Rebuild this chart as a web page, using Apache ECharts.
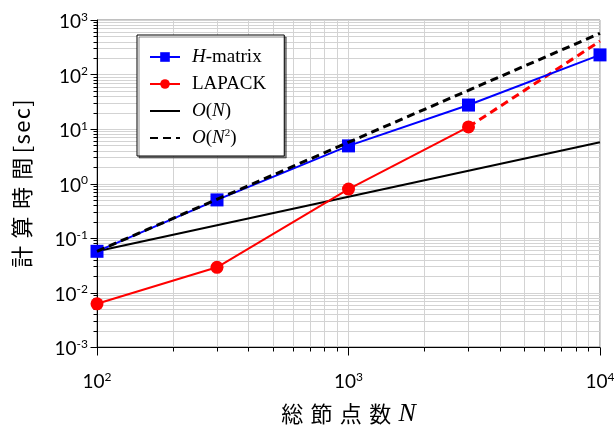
<!DOCTYPE html>
<html><head><meta charset="utf-8">
<script src="https://cdn.jsdelivr.net/npm/echarts@6/dist/echarts.min.js"></script>
<style>html,body{margin:0;padding:0;background:#fff}#c{width:614px;height:426px}</style>
</head><body><div id="c"></div>
<script>
// ---- data ----
const nodes = [100, 300, 1000, 3000, 10000];
const hmatrixTime = [0.057, 0.5, 4.9, 27.5, 229];
const lapackNodes = [100, 300, 1000, 3000];
const lapackTime = [0.0062, 0.029, 0.79, 10.9];
const lapackExtNodes = [3000, 10000];
const lapackExtTime = [10.9, 410];
const orderNodes = [100, 10000];
const orderN = [0.057, 5.7];
const orderN2 = [0.057, 570];
const xMajorTicks = [100, 1000, 10000];
const yMajorTicks = [0.001, 0.01, 0.1, 1, 10, 100, 1000];
const minorMultipliers = [2, 3, 4, 5, 6, 7, 8, 9];
const X_MIN = 100, X_MAX = 10000, Y_MIN = 0.001, Y_MAX = 1000;

function zip(a, b) { return a.map((v, i) => [v, b[i]]); }
function gridValues(majors) {
  const out = majors.map(v => [v, 1]);
  majors.slice(0, -1).forEach(m => minorMultipliers.forEach(k => out.push([m * k, 0])));
  return out;
}
const xGridValues = gridValues(xMajorTicks);
const yGridValues = gridValues(yMajorTicks);

const GRID_COLOR = '#d3d3d3';
function px(v) { return Math.round(v) + 0.5; }

function renderV(params, api) {
  const x = api.value(0), major = api.value(1) === 1;
  const t = api.coord([x, Y_MAX]), b = api.coord([x, Y_MIN]);
  const xx = px(t[0]);
  return { type: 'group', children: [
    { type: 'line', shape: { x1: xx, y1: t[1], x2: xx, y2: b[1] }, style: { stroke: GRID_COLOR, lineWidth: 1 } },
    { type: 'line', shape: { x1: xx, y1: px(b[1]), x2: xx, y2: px(b[1]) + (major ? 8 : 4) }, style: { stroke: '#000', lineWidth: 1 } }
  ]};
}
function renderH(params, api) {
  const y = api.value(0), major = api.value(1) === 1;
  const l = api.coord([X_MIN, y]), r = api.coord([X_MAX, y]);
  const yy = px(l[1]);
  return { type: 'group', children: [
    { type: 'line', shape: { x1: l[0], y1: yy, x2: r[0], y2: yy }, style: { stroke: GRID_COLOR, lineWidth: 1 } },
    { type: 'line', shape: { x1: px(l[0]), y1: yy, x2: px(l[0]) - (major ? 7 : 4), y2: yy }, style: { stroke: '#000', lineWidth: 1 } }
  ]};
}

const tickRich = {
  b: { fontFamily: 'Lato', fontSize: 19, lineHeight: 22, color: '#000' },
  s: { fontFamily: 'Lato', fontSize: 12, lineHeight: 12, verticalAlign: 'top', color: '#000' }
};
function powLabel(v) {
  const e = Math.round(Math.log10(v));
  return '{b|10}{s|' + (e < 0 ? '-' + (-e) : e) + '}';
}

const legendNames = {
  'H-matrix': '{i|H}{r|-matrix}',
  'LAPACK': '{r|LAPACK}',
  'O(N)': '{i|O}{r|(}{i|N}{r|)}',
  'O(N2)': '{i|O}{r|(}{i|N}{s|2}{r|)}'
};
const serif = 'Liberation Serif';

const chart = echarts.init(document.getElementById('c'), null, { renderer: 'canvas' });
chart.setOption({
  animation: false,
  backgroundColor: '#fff',
  grid: { left: 97, right: 14, top: 20, bottom: 79, show: true, borderColor: '#808080', borderWidth: 1,
    backgroundColor: 'transparent', containLabel: false, outerBoundsMode: 'none' },
  legend: {
    orient: 'vertical', left: 137, top: 35,
    data: ['H-matrix', 'LAPACK',
      { name: 'O(N)', itemStyle: { opacity: 0 } },
      { name: 'O(N2)', itemStyle: { opacity: 0 } }],
    itemWidth: 30, itemHeight: 12, itemGap: 7,
    padding: [12, 18, 8, 12],
    backgroundColor: '#fff', borderColor: '#000', borderWidth: 1,
    shadowColor: 'rgba(0,0,0,0.45)', shadowOffsetX: 2, shadowOffsetY: 2, shadowBlur: 0,
    formatter: n => legendNames[n],
    textStyle: {
      fontFamily: serif, fontSize: 19, lineHeight: 20, color: '#000', padding: [0, 0, 0, 7],
      rich: {
        r: { fontFamily: serif, fontSize: 19, color: '#000' },
        i: { fontFamily: serif, fontSize: 19, fontStyle: 'italic', color: '#000' },
        s: { fontFamily: serif, fontSize: 11, lineHeight: 11, verticalAlign: 'top', color: '#000' }
      }
    }
  },
  xAxis: {
    type: 'log', logBase: 10, min: X_MIN, max: X_MAX,
    axisLine: { show: true, lineStyle: { color: '#000', width: 1 } },
    axisTick: { show: false },
    splitLine: { show: false },
    axisLabel: { margin: 24, formatter: powLabel, rich: tickRich, hideOverlap: false },
    name: '{c|総\u2004節\u2004点\u2004数\u2004}{n|N}',
    nameLocation: 'middle', nameGap: 54,
    nameTextStyle: { rich: {
      c: { fontFamily: 'Noto Sans CJK JP', fontSize: 22, color: '#000' },
      n: { fontFamily: serif, fontStyle: 'italic', fontSize: 26, color: '#000' }
    } }
  },
  yAxis: {
    type: 'log', logBase: 10, min: Y_MIN, max: Y_MAX,
    axisLine: { show: true, lineStyle: { color: '#000', width: 1 } },
    axisTick: { show: false },
    splitLine: { show: false },
    axisLabel: { margin: 9, formatter: powLabel, rich: tickRich, padding: [4, 0, 0, 0] },
    name: '計\u2004算\u2004時\u2004間\u2009[\u200as\u200ae\u200ac\u200a]',
    nameLocation: 'middle', nameGap: 64, nameRotate: 90,
    nameTextStyle: { fontFamily: "'Noto Sans CJK JP', 'DejaVu Sans'", fontSize: 22, color: '#000' }
  },
  series: [
    { type: 'custom', name: 'vgrid', data: xGridValues, renderItem: renderV, clip: false, silent: true, z: 0,
      encode: { x: 0 } },
    { type: 'custom', name: 'hgrid', data: yGridValues, renderItem: renderH, clip: false, silent: true, z: 0,
      encode: { y: 0 } },
    { type: 'line', name: 'O(N)', data: zip(orderNodes, orderN), symbol: 'none', clip: false,
      lineStyle: { color: '#000', width: 2 }, itemStyle: { color: '#000' }, z: 3 },
    { type: 'line', name: 'LAPACK-ext', data: zip(lapackExtNodes, lapackExtTime), symbol: 'none', clip: false,
      lineStyle: { color: '#ff0000', width: 3, type: [8, 5] }, itemStyle: { color: '#ff0000' }, z: 3 },
    { type: 'line', name: 'LAPACK', data: zip(lapackNodes, lapackTime), symbol: 'circle', symbolSize: 13, clip: false,
      lineStyle: { color: '#ff0000', width: 2 }, itemStyle: { color: '#ff0000' }, z: 4 },
    { type: 'line', name: 'H-matrix', data: zip(nodes, hmatrixTime), symbol: 'rect', symbolSize: 13, clip: false,
      lineStyle: { color: '#0000ff', width: 2 }, itemStyle: { color: '#0000ff' }, z: 4 },
    { type: 'line', name: 'O(N2)', data: zip(orderNodes, orderN2), symbol: 'none', clip: false,
      lineStyle: { color: '#000', width: 3, type: [8, 5] }, itemStyle: { color: '#000' }, z: 5 }
  ]
});
</script></body></html>
